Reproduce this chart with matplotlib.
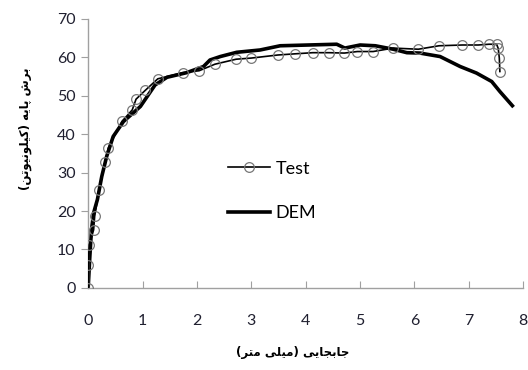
import matplotlib
matplotlib.use("Agg")
import matplotlib.pyplot as plt

# Test data (displacement mm, shear kN)
test_x = [0, 0.0, 0.02, 0.10, 0.12, 0.20, 0.31, 0.37, 0.62, 0.81, 0.88, 1.05, 1.28,
          1.74, 2.04, 2.33, 2.72, 3.0, 3.49, 3.80, 4.13, 4.43, 4.71, 4.95, 5.24,
          5.61, 6.07, 6.45, 6.88, 7.17, 7.37, 7.51, 7.54, 7.56, 7.57]
test_y = [0, 6.0, 11.2, 15.1, 18.7, 25.5, 32.7, 36.4, 43.3, 46.3, 49.1, 51.4, 54.4,
          56.0, 56.5, 58.2, 59.5, 59.8, 60.6, 60.9, 61.2, 61.2, 61.1, 61.5, 61.5,
          62.4, 62.1, 63.0, 63.2, 63.2, 63.4, 63.4, 62.3, 59.8, 56.3]

# DEM curve
dem_x = [0, 0.03, 0.06, 0.10, 0.17, 0.25, 0.34, 0.46, 0.65, 0.96, 1.23, 1.45, 1.81,
         2.12, 2.24, 2.43, 2.73, 3.16, 3.53, 4.57, 4.72, 5.0, 5.28, 5.61, 5.86,
         6.10, 6.47, 6.84, 7.14, 7.42, 7.57, 7.80]
dem_y = [0, 8, 15, 19.5, 23, 29, 34.2, 39.4, 43.3, 47.2, 52.8, 54.8, 56.0,
         57.6, 59.3, 60.2, 61.3, 61.9, 63.0, 63.4, 62.4, 63.2, 63.0, 62.1, 61.2,
         61.1, 60.2, 57.6, 55.9, 53.7, 51.1, 47.4]

xlabel_fa = "جابجایی (میلی متر)"
ylabel_fa = "برش پایه (کیلونیوتن)"

# minimal Persian shaping (matplotlib has no bidi/shaping)
FORMS = {
    'ا': (0xFE8D, 0xFE8E, None, None),
    'ب': (0xFE8F, 0xFE90, 0xFE91, 0xFE92),
    'ت': (0xFE95, 0xFE96, 0xFE97, 0xFE98),
    'ج': (0xFE9D, 0xFE9E, 0xFE9F, 0xFEA0),
    'ر': (0xFEAD, 0xFEAE, None, None),
    'ش': (0xFEB5, 0xFEB6, 0xFEB7, 0xFEB8),
    'ل': (0xFEDD, 0xFEDE, 0xFEDF, 0xFEE0),
    'م': (0xFEE1, 0xFEE2, 0xFEE3, 0xFEE4),
    'ن': (0xFEE5, 0xFEE6, 0xFEE7, 0xFEE8),
    'ه': (0xFEE9, 0xFEEA, 0xFEEB, 0xFEEC),
    'و': (0xFEED, 0xFEEE, None, None),
    'پ': (0xFB56, 0xFB57, 0xFB58, 0xFB59),
    'ک': (0xFB8E, 0xFB8F, 0xFB90, 0xFB91),
    'ی': (0xFBFC, 0xFBFD, 0xFBFE, 0xFBFF),
}


def shape(text):
    out = []
    for i, ch in enumerate(text):
        if ch not in FORMS:
            out.append(ch)
            continue
        prev = text[i - 1] if i > 0 else ''
        nxt = text[i + 1] if i + 1 < len(text) else ''
        jp = prev in FORMS and FORMS[prev][2] is not None
        jn = nxt in FORMS and FORMS[ch][2] is not None
        f = FORMS[ch]
        if jp and jn:
            code = f[3]
        elif jp:
            code = f[1]
        elif jn:
            code = f[2]
        else:
            code = f[0]
        out.append(chr(code))
    mirror = {'(': ')', ')': '('}
    return ''.join(mirror.get(c, c) for c in reversed(out))


plt.rcParams['font.family'] = ['Lato', 'DejaVu Sans']

fig = plt.figure(figsize=(5.28, 3.70), dpi=100)
ax = fig.add_axes([0.167, 0.222, 0.824, 0.727])

ax.plot(dem_x, dem_y, color='black', lw=2.6, label='DEM', zorder=2)
ax.plot(test_x, test_y, color='black', lw=1.2, marker='o', markersize=7,
        markerfacecolor='none', markeredgecolor='#777777', markeredgewidth=0.9,
        label='Test', zorder=3)

ax.set_xlim(0, 8)
ax.set_ylim(0, 70)
ax.set_xticks(range(0, 9))
ax.set_yticks(range(0, 71, 10))

for s in ['top', 'right']:
    ax.spines[s].set_visible(False)
for s in ['left', 'bottom']:
    ax.spines[s].set_color('#a0a0a0')
    ax.spines[s].set_linewidth(1.0)

ax.tick_params(axis='x', direction='in', length=5, color='#a0a0a0',
               labelsize=11.5, pad=19, labelcolor='#202030')
ax.tick_params(axis='y', direction='out', length=5, color='#a0a0a0',
               labelsize=11.5, pad=4, labelcolor='#202030')

ax.set_xlabel(shape(xlabel_fa), family='DejaVu Sans', fontweight='bold',
              fontsize=8.5)
ax.set_ylabel(shape(ylabel_fa), family='DejaVu Sans', fontweight='bold',
              fontsize=8.5)
ax.xaxis.set_label_coords(0.47, -0.215)
ax.yaxis.set_label_coords(-0.13, 0.59)

handles, labels = ax.get_legend_handles_labels()
ax.legend(handles[::-1], labels[::-1], loc='center', bbox_to_anchor=(0.423, 0.36),
          frameon=False, fontsize=13, handlelength=2.3, handletextpad=0.3,
          labelspacing=1.6)

fig.savefig('out.png', dpi=100)
